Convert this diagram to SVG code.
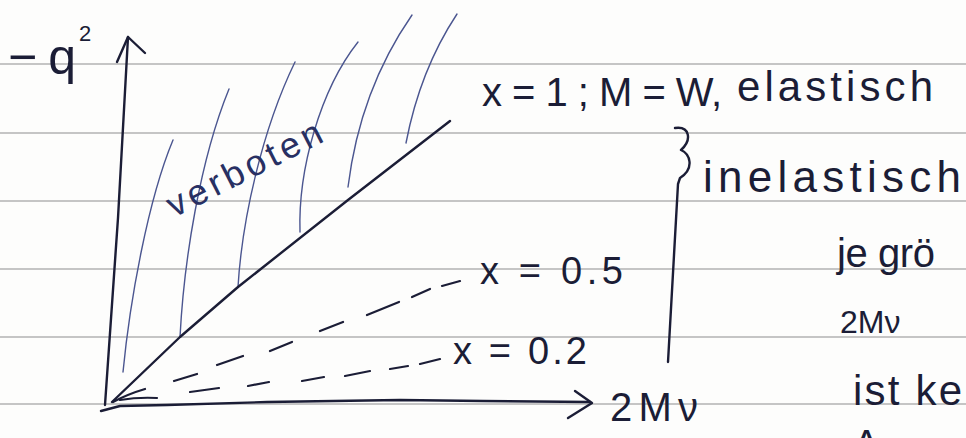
<svg xmlns="http://www.w3.org/2000/svg" width="966" height="438" viewBox="0 0 966 438">
<defs>
<style>
.rule{stroke:#b2b2b2;stroke-width:1.3;fill:none}
.ink{stroke:#1b1d36;stroke-width:2.4;fill:none;stroke-linecap:round;stroke-linejoin:round}
.hatch{stroke:#4b5690;stroke-width:1.4;fill:none;stroke-linecap:round}
.dash{stroke:#1b1d36;stroke-width:2.2;fill:none;stroke-linecap:round}
.t{font-family:"Liberation Sans","DejaVu Sans",sans-serif;fill:#1b1d36}
.tb{font-family:"Liberation Sans","DejaVu Sans",sans-serif;fill:#283063}
</style>
</defs>
<rect width="966" height="438" fill="#fdfdfc"/>
<g id="ruling" class="rule">
<path d="M0 64H966M0 133H966M0 201H966M0 269H966M0 337H966M0 404H966"/>
</g>
<g id="forbidden-region">
<g class="hatch">
<path d="M123,372 C130,300 148,200 173,140"/>
<path d="M180,337 C184,260 200,160 229,89"/>
<path d="M238,287 C242,220 262,130 295,62"/>
<path d="M300,232 C298,170 320,90 358,42"/>
<path d="M348,187 Q360,90 412,15"/>
<path d="M406,143 Q420,70 457,14"/>
</g>
<text class="tb" font-size="36" x="0" y="0" textLength="170" lengthAdjust="spacing" transform="translate(174,218) rotate(-27)">verboten</text>
</g>
<g id="connectors">
<g id="y-axis" class="ink">
<path d="M105,405 L118,218 L128,37"/>
<path d="M117,62 L128,37 L145,53"/>
</g>
<g id="x-axis" class="ink">
<path d="M101,411 L120,406 L167,405 L267,402 L400,400 L483,401 L590,402"/>
<path d="M575,391 L592,403 L568,418"/>
</g>
<g id="line-x1" class="ink">
<path d="M112,402 L180,337 L238,287 L348,200 L450,121"/>
</g>
<g id="line-x05" class="dash">
<path d="M113,402 Q128,394 145,389 M174,381 L197,374 M217,365 L243,356 M270,351 L292,342 M320,331 L343,322 M367,315 L399,302 M412,297 L430,289 M442,286 L460,281"/>
</g>
<g id="line-x02" class="dash">
<path d="M120,400 Q138,397 157,398 M190,392 L219,388 M248,386 L269,382 M302,381 L324,377 M345,376 L370,371 M390,369 L408,366 M420,364 L440,359"/>
</g>
<g id="bracket" class="ink">
<path d="M675,128 C690,126 692,140 681,150 C690,154 695,168 680,178 L678,184 L668,362"/>
</g>
</g>
<g id="label-y">
<text class="t" x="8" y="74" font-size="50" textLength="68" lengthAdjust="spacing">−q</text>
<text class="t" x="79" y="41" font-size="22">2</text>
</g>
<g id="label-elastic">
<text class="t" x="482" y="106" font-size="40" textLength="240" lengthAdjust="spacing">x = 1 ; M = W,</text>
<text class="t" x="737" y="101" font-size="42" textLength="196" lengthAdjust="spacing">elastisch</text>
</g>
<g id="label-inelastic">
<text class="t" x="703" y="192" font-size="44" textLength="258" lengthAdjust="spacing">inelastisch</text>
</g>
<g id="label-x05">
<text class="t" x="480" y="284" font-size="38" textLength="143" lengthAdjust="spacing">x = 0.5</text>
</g>
<g id="label-x02">
<text class="t" x="453" y="364" font-size="38" textLength="134" lengthAdjust="spacing">x = 0.2</text>
</g>
<g id="label-x-axis">
<text class="t" x="610" y="421" font-size="40" textLength="88" lengthAdjust="spacing">2Mν</text>
</g>
<g id="note">
<text class="t" x="837" y="267" font-size="40" textLength="98" lengthAdjust="spacing">je grö</text>
<text class="t" x="840" y="333" font-size="32">2Mν</text>
<text class="t" x="853" y="405" font-size="42" textLength="109" lengthAdjust="spacing">ist ke</text>
<text class="t" x="853" y="458" font-size="40">A</text>
</g>
</svg>
